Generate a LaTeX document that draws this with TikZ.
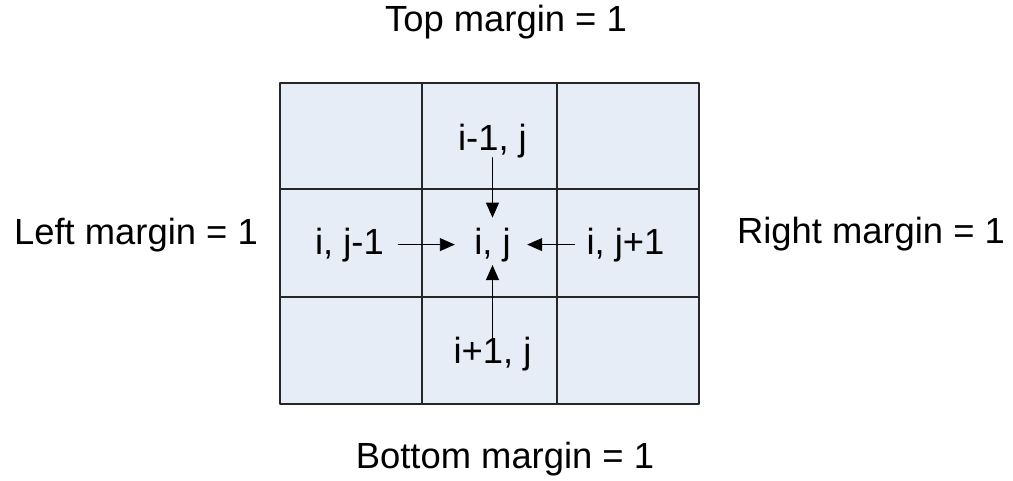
\documentclass[tikz,border=0pt]{standalone}
\usepackage{fontspec}
\setmainfont{Liberation Sans}
\usetikzlibrary{arrows.meta,positioning}

\definecolor{cellfill}{RGB}{230,237,247}

\begin{document}
\begin{tikzpicture}[>={Triangle[length=3mm,width=2.6mm]}, line cap=round, line join=round,
  cell/.style={draw=black!85, fill=cellfill, line width=0.75pt, inner sep=0pt, outer sep=0pt},
  lbl/.style={inner sep=0pt, outer sep=0pt, anchor=base, font=\fontsize{20.7}{24}\selectfont},
  conn/.style={->, line width=0.5pt}]

\useasboundingbox (0,0) rectangle (20.26,9.6);

% grid of cells
\node[cell, minimum width=2.84cm, minimum height=2.12cm] (c11) at (7.02,6.88) {};
\node[cell, minimum width=2.70cm, minimum height=2.12cm] (c12) at (9.79,6.88) {};
\node[cell, minimum width=2.84cm, minimum height=2.12cm] (c13) at (12.56,6.88) {};
\node[cell, minimum width=2.84cm, minimum height=2.16cm] (c21) at (7.02,4.74) {};
\node[cell, minimum width=2.70cm, minimum height=2.16cm] (c22) at (9.79,4.74) {};
\node[cell, minimum width=2.84cm, minimum height=2.16cm] (c23) at (12.56,4.74) {};
\node[cell, minimum width=2.84cm, minimum height=2.14cm] (c31) at (7.02,2.59) {};
\node[cell, minimum width=2.70cm, minimum height=2.14cm] (c32) at (9.79,2.59) {};
\node[cell, minimum width=2.84cm, minimum height=2.14cm] (c33) at (12.56,2.59) {};

% cell labels
\node[lbl] (ij) at (9.85,4.52) {i, j};
\node[lbl] (up) at (9.85,6.6) {i-1, j};
\node[lbl] (down) at (9.85,2.34) {i+1, j};
\node[lbl] (left) at (6.99,4.52) {i, j-1};
\node[lbl] (right) at (12.51,4.52) {i, j+1};

% margins
\node[lbl] (topm) at (10.12,8.98) {Top margin = 1};
\node[lbl] (botm) at (10.1,0.24) {Bottom margin = 1};
\node[lbl] (leftm) at (2.72,4.72) {Left margin = 1};
\node[lbl] (rightm) at (17.42,4.74) {Right margin = 1};

\draw[conn, shorten >=0.2cm] (up) -- (ij);
\draw[conn, shorten <=-0.2cm, shorten >=0.07cm] (down) -- (ij);
\draw[conn, shorten <=0.29cm, shorten >=0.39cm] (left) -- (ij);
\draw[conn, shorten <=0.24cm, shorten >=0.33cm] (right) -- (ij);

\end{tikzpicture}
\end{document}
